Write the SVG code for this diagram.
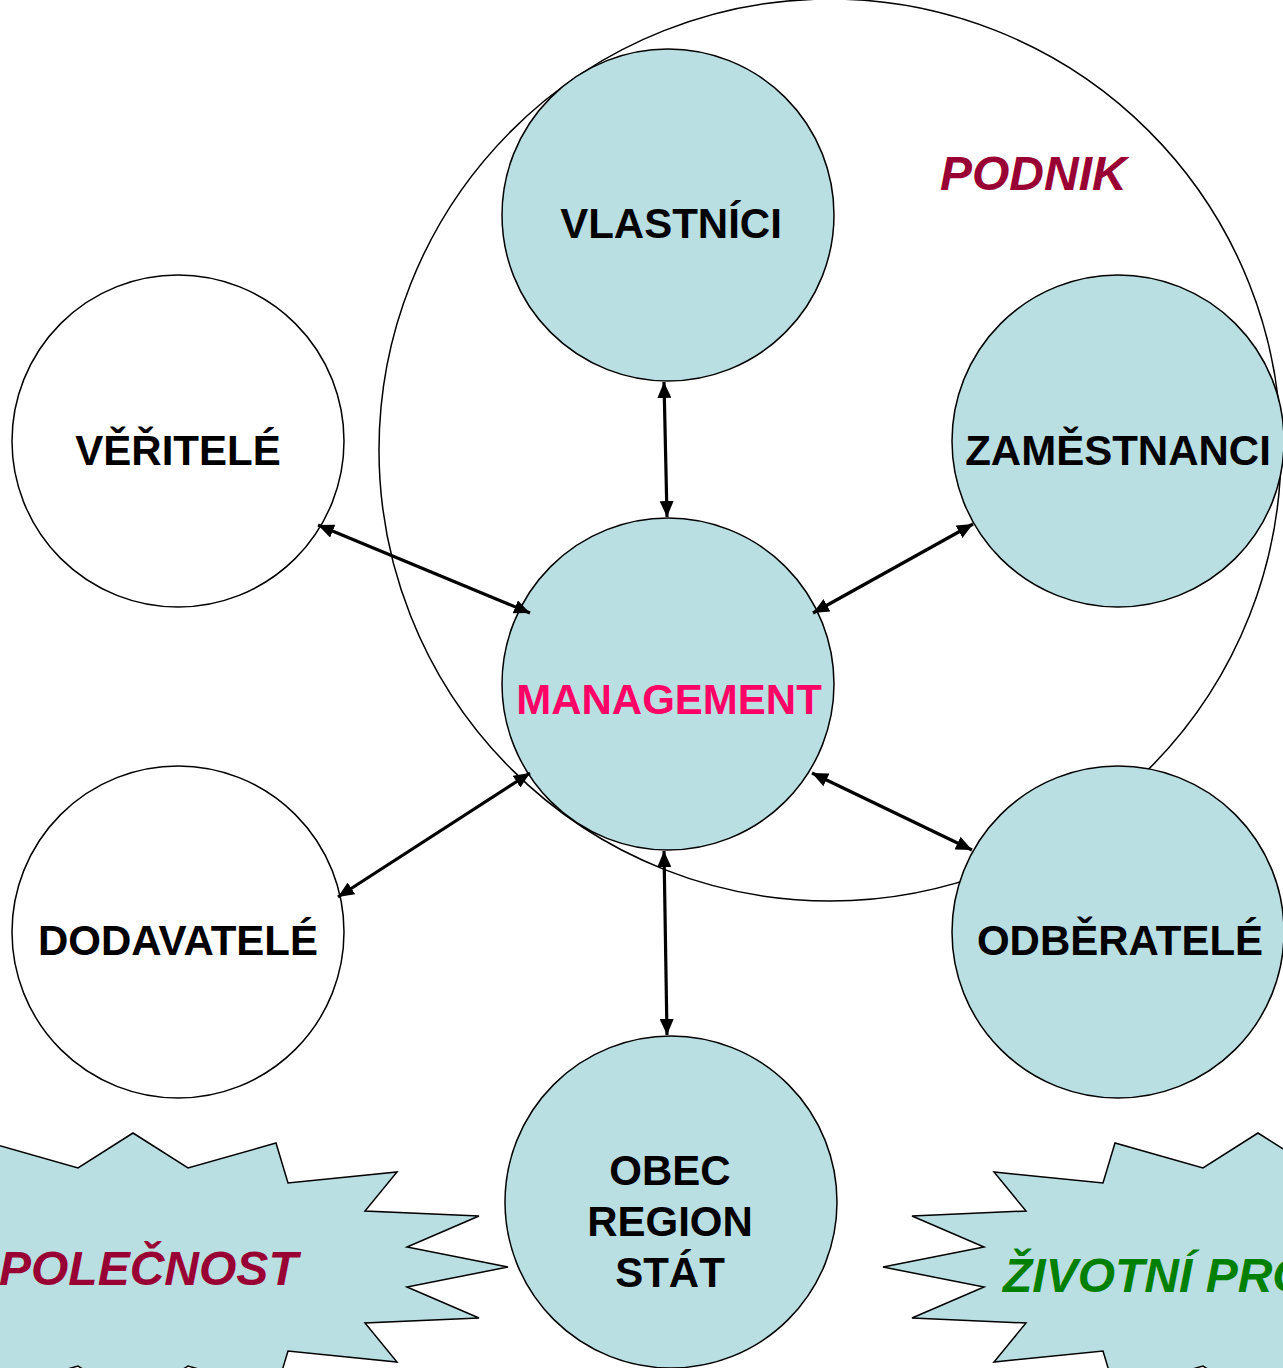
<svg xmlns="http://www.w3.org/2000/svg" width="1283" height="1368" viewBox="0 0 1283 1368">
<style>
.node{fill:#B9DFE3;stroke:#000;stroke-width:1.5}
.wnode{fill:#fff;stroke:#000;stroke-width:1.5}
.lbl{font-family:"Liberation Sans",Arial,sans-serif;font-weight:bold;font-size:42px;fill:#000;text-anchor:middle}
.ital{font-family:"Liberation Sans",Arial,sans-serif;font-weight:bold;font-style:italic;font-size:48px}
.conn line{stroke:#000;stroke-width:3.2;marker-start:url(#ah);marker-end:url(#ah)}
</style>
<defs>
<marker id="ah" markerUnits="userSpaceOnUse" markerWidth="17" markerHeight="14" refX="16" refY="7" orient="auto-start-reverse">
<path d="M0,0 L16,7 L0,14 Z" fill="#000"/>
</marker>
</defs>
<rect width="1283" height="1368" fill="#fff"/>
<g id="podnik">
<circle cx="830" cy="450" r="451" fill="none" stroke="#000" stroke-width="1.5"/>
<text class="ital" x="940" y="190" fill="#990033">PODNIK</text>
</g>
<g id="spolecnost">
<polygon class="node" points="133,1133 188,1168 276,1143 288,1183 397,1172 365,1211 479,1216 407,1247 508,1267 407,1287 479,1318 365,1323 397,1362 288,1351 276,1391 188,1366 133,1401 78,1366 -10,1391 -22,1351 -131,1362 -99,1323 -213,1318 -141,1287 -242,1267 -141,1247 -213,1216 -99,1211 -131,1172 -22,1183 -10,1143 78,1168"/>
<text class="ital" x="-33" y="1285" fill="#990033">SPOLEČNOST</text>
</g>
<g id="zivotni">
<polygon class="node" points="1258,1133 1313,1168 1401,1143 1413,1183 1522,1172 1490,1211 1604,1216 1532,1247 1633,1267 1532,1287 1604,1318 1490,1323 1522,1362 1413,1351 1401,1391 1313,1366 1258,1401 1203,1366 1115,1391 1103,1351 994,1362 1026,1323 912,1318 984,1287 883,1267 984,1247 912,1216 1026,1211 994,1172 1103,1183 1115,1143 1203,1168"/>
<text class="ital" x="1003" y="1292" fill="#008000">ŽIVOTNÍ PROSTŘEDÍ</text>
</g>
<g id="vlastnici">
<circle class="node" cx="668" cy="215" r="166"/>
<text class="lbl" x="671" y="238">VLASTNÍCI</text>
</g>
<g id="veritele">
<circle class="wnode" cx="178" cy="441" r="166"/>
<text class="lbl" x="178" y="465">VĚŘITELÉ</text>
</g>
<g id="zamestnanci">
<circle class="node" cx="1118" cy="441" r="166"/>
<text class="lbl" x="1118" y="465">ZAMĚSTNANCI</text>
</g>
<g id="management">
<circle class="node" cx="668" cy="684" r="166"/>
<text class="lbl" x="669" y="714" fill="#FF0066" style="fill:#FF0066">MANAGEMENT</text>
</g>
<g id="dodavatele">
<circle class="wnode" cx="178" cy="932" r="166"/>
<text class="lbl" x="178" y="955">DODAVATELÉ</text>
</g>
<g id="odberatele">
<circle class="node" cx="1118" cy="932" r="166"/>
<text class="lbl" x="1120" y="955">ODBĚRATELÉ</text>
</g>
<g id="obec">
<circle class="node" cx="671" cy="1202" r="166"/>
<text class="lbl" x="670" y="1185">OBEC</text>
<text class="lbl" x="670" y="1236">REGION</text>
<text class="lbl" x="670" y="1287">STÁT</text>
</g>
<g id="connectors" class="conn">
<line x1="664" y1="382" x2="667" y2="517"/>
<line x1="664" y1="851" x2="667" y2="1035"/>
<line x1="318" y1="525" x2="530" y2="613"/>
<line x1="973" y1="524" x2="813" y2="613"/>
<line x1="530" y1="773" x2="338" y2="897"/>
<line x1="812" y1="773" x2="972" y2="850"/>
</g>
</svg>
